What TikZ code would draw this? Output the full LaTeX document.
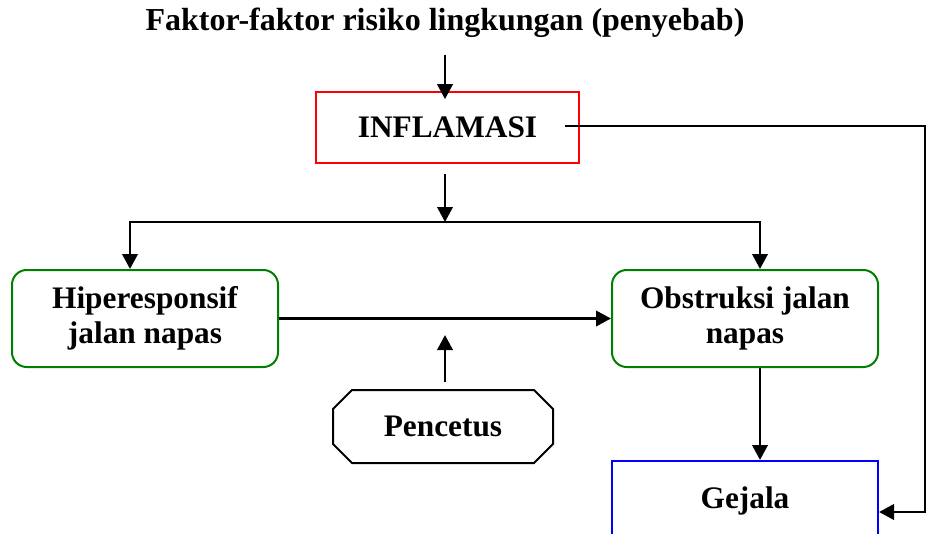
\documentclass[tikz,border=0pt]{standalone}
\usepackage{fontspec}
\setmainfont{Liberation Serif}
\usetikzlibrary{arrows.meta,positioning,calc,shapes.misc}
\definecolor{inflamred}{RGB}{255,0,0}
\definecolor{airwaygreen}{RGB}{0,128,0}
\definecolor{gejalablue}{RGB}{0,0,255}

\begin{document}
\begin{tikzpicture}[x=0.75pt, y=-0.75pt, >={Triangle[length=11.25pt,width=11.5pt]},
    flow/.style={->, line width=2pt},
    label/.style={font=\fontsize{23.5}{26.5}\selectfont\bfseries, align=center},
    box/.style={label, rectangle, draw, line width=1.5pt, fill=white},
    cause/.style={box, draw=inflamred, minimum width=197pt, minimum height=53pt},
    airway/.style={box, draw=airwaygreen, rounded corners=11pt, minimum width=199.5pt, minimum height=72.75pt},
    symptom/.style={box, draw=gejalablue, minimum width=199.5pt, minimum height=60pt},
    trigger/.style={box, chamfered rectangle, chamfered rectangle xsep=13.5pt, minimum width=165pt, minimum height=54.75pt}]
    \useasboundingbox (0,0) rectangle (930,533);
    \node [label, font=\fontsize{24}{27}\selectfont\bfseries] (title) at (445,23) {Faktor-faktor risiko lingkungan (penyebab)};
    \node [cause] (inflamasi) at (447.5,127.5) {INFLAMASI};
    \node [airway] (hiper) at (145,318.5) {Hiperesponsif\\jalan napas};
    \node [airway, right of=hiper, node distance=450pt] (obstr) {Obstruksi jalan\\napas};
    \node [trigger] (pencetus) at (443,426.5) {Pencetus};
    \node [symptom] (gejala) at (745,501) {Gejala};
    \coordinate (split) at (445,222);
    \coordinate (push) at (445,335);
    \coordinate (inflout) at (565,126);
    \coordinate (bend) at (925,126);

    \draw[flow, shorten <=9pt, shorten >=-6pt] (title.south -| split) -- (inflamasi.north -| split);
    \draw[flow, shorten <=7.5pt] (inflamasi.south -| split) -- (split);
    \draw[flow] (split) -| ($(hiper.north)+(-15,0)$);
    \draw[flow] (split) -| ($(obstr.north)+(15,0)$);
    \draw[flow] (hiper) -- (obstr);
    \draw[flow, shorten <=5pt] (pencetus.north -| push) -- (push);
    \draw[flow] ($(obstr.south)+(15,0)$) -- ($(gejala.north)+(15,0)$);
    \draw[flow] (inflout) -- (bend) |- ($(gejala.east)+(0,11)$);
\end{tikzpicture}
\end{document}
